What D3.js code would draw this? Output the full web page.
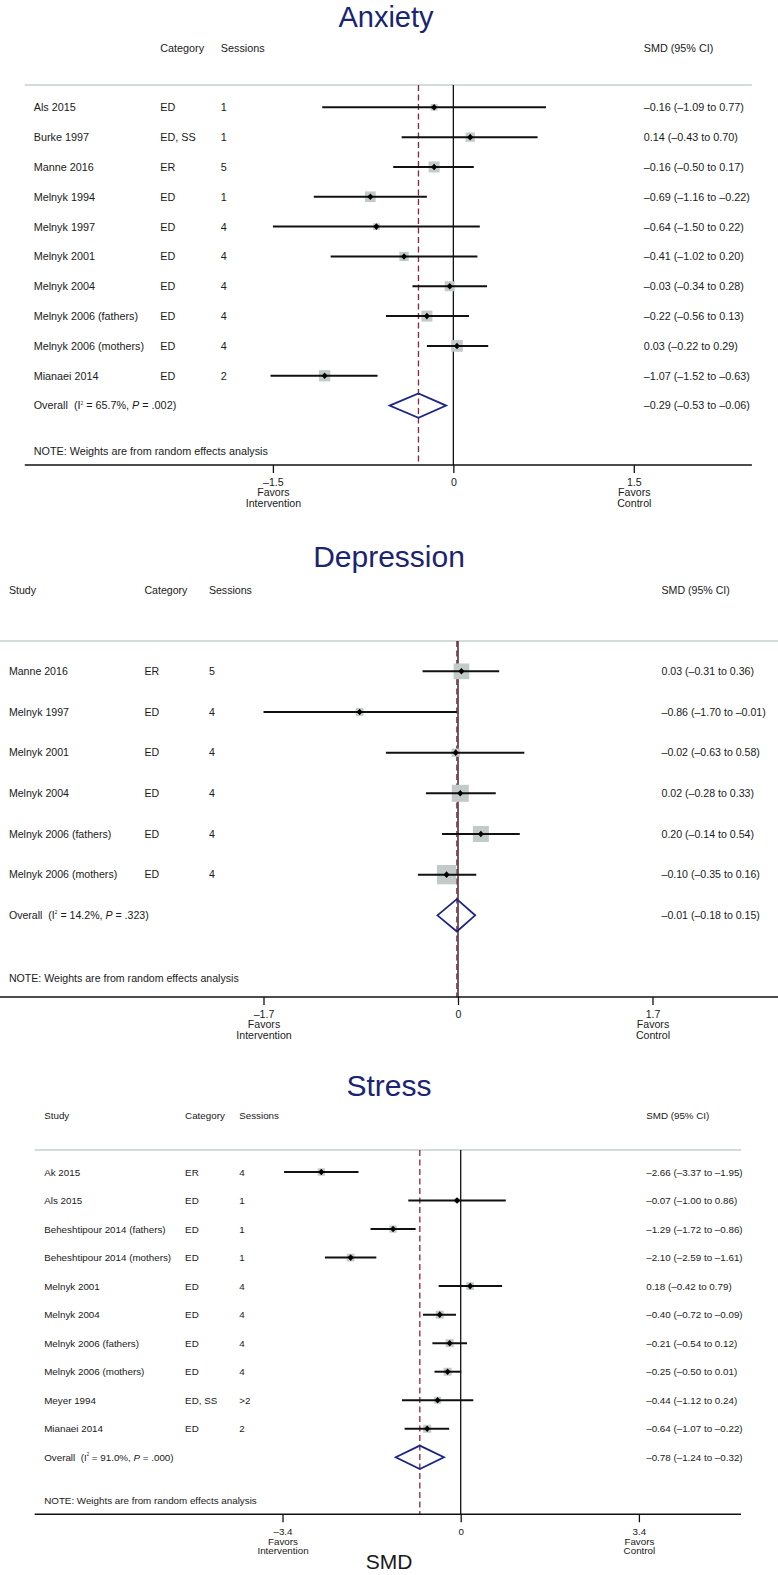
<!DOCTYPE html>
<html><head><meta charset="utf-8">
<script src="https://cdn.jsdelivr.net/npm/d3@7"></script>
<style>
body{margin:0;background:#fff}
svg{display:block}
text{font-family:"Liberation Sans",Arial,Helvetica,sans-serif;fill:#1a1a1a;white-space:pre}
</style>
</head><body>
<svg id="chart" width="778" height="1575"></svg>
<script>
// ---------------- DATA ----------------
const anxietyStudies  = ["Als 2015","Burke 1997","Manne 2016","Melnyk 1994","Melnyk 1997","Melnyk 2001","Melnyk 2004","Melnyk 2006 (fathers)","Melnyk 2006 (mothers)","Mianaei 2014"];
const anxietyCategory = ["ED","ED, SS","ER","ED","ED","ED","ED","ED","ED","ED"];
const anxietySessions = ["1","1","5","1","4","4","4","4","4","2"];
const anxietyEst      = [-0.16, 0.14, -0.16, -0.69, -0.64, -0.41, -0.03, -0.22, 0.03, -1.07];
const anxietyLower    = [-1.09, -0.43, -0.50, -1.16, -1.50, -1.02, -0.34, -0.56, -0.22, -1.52];
const anxietyUpper    = [0.77, 0.70, 0.17, -0.22, 0.22, 0.20, 0.28, 0.13, 0.29, -0.63];
const anxietyWeight   = [4.6, 8.8, 12.3, 11.6, 4.6, 8.8, 10.2, 12.3, 13.9, 13.0];
const anxietyOverall  = [-0.29, -0.53, -0.06];
const anxietyHet      = ["65.7%", ".002"];
const anxietyTicks    = [-1.5, 0, 1.5];

const depressionStudies  = ["Manne 2016","Melnyk 1997","Melnyk 2001","Melnyk 2004","Melnyk 2006 (fathers)","Melnyk 2006 (mothers)"];
const depressionCategory = ["ER","ED","ED","ED","ED","ED"];
const depressionSessions = ["5","4","4","4","4","4"];
const depressionEst      = [0.03, -0.86, -0.02, 0.02, 0.20, -0.10];
const depressionLower    = [-0.31, -1.70, -0.63, -0.28, -0.14, -0.35];
const depressionUpper    = [0.36, -0.01, 0.58, 0.33, 0.54, 0.16];
const depressionWeight   = [19.1, 4.6, 5.3, 22.4, 19.8, 28.8];
const depressionOverall  = [-0.01, -0.18, 0.15];
const depressionHet      = ["14.2%", ".323"];
const depressionTicks    = [-1.7, 0, 1.7];

const stressStudies  = ["Ak 2015","Als 2015","Beheshtipour 2014 (fathers)","Beheshtipour 2014 (mothers)","Melnyk 2001","Melnyk 2004","Melnyk 2006 (fathers)","Melnyk 2006 (mothers)","Meyer 1994","Mianaei 2014"];
const stressCategory = ["ER","ED","ED","ED","ED","ED","ED","ED","ED, SS","ED"];
const stressSessions = ["4","1","1","1","4","4","4","4",">2","2"];
const stressEst      = [-2.66, -0.07, -1.29, -2.10, 0.18, -0.40, -0.21, -0.25, -0.44, -0.64];
const stressLower    = [-3.37, -1.00, -1.72, -2.59, -0.42, -0.72, -0.54, -0.50, -1.12, -1.07];
const stressUpper    = [-1.95, 0.86, -0.86, -1.61, 0.79, -0.09, 0.12, 0.01, 0.24, -0.22];
const stressWeight   = [9.6, 4.5, 9.6, 10.7, 10.7, 11.5, 11.5, 11.5, 8.8, 11.5];
const stressOverall  = [-0.78, -1.24, -0.32];
const stressHet      = ["91.0%", ".000"];
const stressTicks    = [-3.4, 0, 3.4];

const columnHeaders = ["Study", "Category", "Sessions", "SMD (95% CI)"];
const noteText = "NOTE: Weights are from random effects analysis";
const favorsLeft = ["Favors", "Intervention"];
const favorsRight = ["Favors", "Control"];
const xAxisTitle = "SMD";

// ---------------- LAYOUT ----------------
const panels = [
  { title:"Anxiety", studyHeader:false, studies:anxietyStudies, category:anxietyCategory, sessions:anxietySessions,
    est:anxietyEst, lo:anxietyLower, hi:anxietyUpper, weight:anxietyWeight, overall:anxietyOverall, het:anxietyHet, ticks:anxietyTicks,
    L:{titleX:386, titleY:26.5, titleFont:29, headerY:47.7, sepY:85, sepX:[24.8,751.9], rowY0:107.3, rowStep:29.83, noteY:451,
       axisY:465, axisX:[24.8,751.9], cols:[33.7,160.3,220.8,643.7], font:10.8, xRange:[272.9,633.8],
       boxMax:11.7, dHalf:12.2, tickFont:10.6, labelStep:10.5} },
  { title:"Depression", studyHeader:true, studies:depressionStudies, category:depressionCategory, sessions:depressionSessions,
    est:depressionEst, lo:depressionLower, hi:depressionUpper, weight:depressionWeight, overall:depressionOverall, het:depressionHet, ticks:depressionTicks,
    L:{titleX:389, titleY:567, titleFont:30, headerY:590.3, sepY:641, sepX:[0,778], rowY0:671.3, rowStep:40.67, noteY:978,
       axisY:997, axisX:[0,778], cols:[8.9,144.4,208.9,661.5], font:10.6, xRange:[263.5,652.5],
       boxMax:19.3, dHalf:16.2, tickFont:10.6, labelStep:10.5} },
  { title:"Stress", studyHeader:true, studies:stressStudies, category:stressCategory, sessions:stressSessions,
    est:stressEst, lo:stressLower, hi:stressUpper, weight:stressWeight, overall:stressOverall, het:stressHet, ticks:stressTicks,
    L:{titleX:389, titleY:1096, titleFont:30, headerY:1115.3, sepY:1150, sepX:[34.7,741], rowY0:1172, rowStep:28.53, noteY:1500.7,
       axisY:1514.3, axisX:[34.7,741], cols:[44.2,185.1,239.2,646.2], font:9.8, xRange:[282.5,638.9],
       boxMax:8, dHalf:11.7, tickFont:9.8, labelStep:9.7} }
];

const dash = s => s.replace(/[-\u2212]/g, "\u2013");
const fmt2 = v => dash(d3.format(".2f")(v));
const ciLabel = (e,l,u) => `${fmt2(e)} (${fmt2(l)} to ${fmt2(u)})`;
const tickFmt = v => v === 0 ? "0" : dash(String(v));

const svg = d3.select("#chart");

panels.forEach(p => {
  const L = p.L;
  const g = svg.append("g");
  const n = p.studies.length;
  const x = d3.scaleLinear().domain([p.ticks[0], p.ticks[2]]).range(L.xRange);
  const y = d3.scaleLinear().domain([0, n]).range([L.rowY0, L.rowY0 + n * L.rowStep]);
  const box = d3.scaleSqrt().domain([0, d3.max(p.weight)]).range([0, L.boxMax]);
  const base = v => v + L.font * 0.36;

  // title
  g.append("text").attr("x", L.titleX).attr("y", L.titleY).attr("text-anchor","middle")
    .style("font-size", L.titleFont + "px").style("fill","#1b2470").text(p.title);

  // headers
  columnHeaders.forEach((h, i) => {
    if (i === 0 && !p.studyHeader) return;
    g.append("text").attr("x", L.cols[i]).attr("y", base(L.headerY)).style("font-size", L.font + "px").text(h);
  });

  // separator
  g.append("line").attr("x1", L.sepX[0]).attr("x2", L.sepX[1]).attr("y1", L.sepY).attr("y2", L.sepY)
    .attr("stroke", "#d3dbdb").attr("stroke-width", 2);

  // zero line
  g.append("line").attr("x1", x(0)).attr("x2", x(0)).attr("y1", L.sepY).attr("y2", L.axisY)
    .attr("stroke", "#111").attr("stroke-width", 1.3);
  // overall dashed line
  g.append("line").attr("x1", x(p.overall[0])).attr("x2", x(p.overall[0])).attr("y1", L.sepY).attr("y2", L.axisY)
    .attr("stroke", "#8e2340").attr("stroke-width", 1.3).attr("stroke-dasharray", "6,3.5");

  const idx = d3.range(n);
  // weight boxes
  g.selectAll("rect.w").data(idx).join("rect").attr("class","w")
    .attr("x", i => x(p.est[i]) - box(p.weight[i]) / 2)
    .attr("y", i => y(i) - box(p.weight[i]) / 2)
    .attr("width", i => box(p.weight[i])).attr("height", i => box(p.weight[i]))
    .attr("fill", "#c3cbca");
  // CI lines
  g.selectAll("line.ci").data(idx).join("line").attr("class","ci")
    .attr("x1", i => x(p.lo[i])).attr("x2", i => x(p.hi[i]))
    .attr("y1", i => y(i)).attr("y2", i => y(i))
    .attr("stroke", "#111").attr("stroke-width", 2);
  // point markers
  const dm = 3.0;
  g.selectAll("path.pt").data(idx).join("path").attr("class","pt")
    .attr("d", i => { const cx = x(p.est[i]), cy = y(i);
      return `M${cx - dm},${cy}L${cx},${cy - dm * 1.1}L${cx + dm},${cy}L${cx},${cy + dm * 1.1}Z`; })
    .attr("fill", "#000");

  // row texts
  idx.forEach(i => {
    const yy = base(y(i));
    g.append("text").attr("x", L.cols[0]).attr("y", yy).style("font-size", L.font + "px").text(p.studies[i]);
    g.append("text").attr("x", L.cols[1]).attr("y", yy).style("font-size", L.font + "px").text(p.category[i]);
    g.append("text").attr("x", L.cols[2]).attr("y", yy).style("font-size", L.font + "px").text(p.sessions[i]);
    g.append("text").attr("x", L.cols[3]).attr("y", yy).style("font-size", L.font + "px")
      .text(ciLabel(p.est[i], p.lo[i], p.hi[i]));
  });

  // overall diamond
  const oy = y(n), o = p.overall;
  g.append("path")
    .attr("d", `M${x(o[1])},${oy}L${x(o[0])},${oy - L.dHalf}L${x(o[2])},${oy}L${x(o[0])},${oy + L.dHalf}Z`)
    .attr("fill", "none").attr("stroke", "#1c2585").attr("stroke-width", 1.8);
  const ot = g.append("text").attr("x", L.cols[0]).attr("y", base(oy)).style("font-size", L.font + "px");
  ot.append("tspan").text("Overall  (I");
  ot.append("tspan").attr("dy", -L.font * 0.45).style("font-size", (L.font * 0.45) + "px").text("2");
  ot.append("tspan").attr("dy", L.font * 0.45).text(` = ${p.het[0]}, `);
  ot.append("tspan").style("font-style", "italic").text("P");
  ot.append("tspan").text(` = ${p.het[1]})`);
  g.append("text").attr("x", L.cols[3]).attr("y", base(oy)).style("font-size", L.font + "px")
    .text(ciLabel(o[0], o[1], o[2]));

  // note
  g.append("text").attr("x", L.cols[0]).attr("y", base(L.noteY)).style("font-size", L.font + "px").text(noteText);

  // axis
  g.append("line").attr("x1", L.axisX[0]).attr("x2", L.axisX[1]).attr("y1", L.axisY).attr("y2", L.axisY)
    .attr("stroke", "#111").attr("stroke-width", 1.5);
  const ax = g.append("g").attr("transform", `translate(0,${L.axisY})`)
    .call(d3.axisBottom(x).tickValues(p.ticks).tickSize(8).tickFormat(tickFmt));
  ax.select(".domain").remove();
  ax.selectAll(".tick line").attr("stroke", "#111").attr("stroke-width", 1.3);
  ax.selectAll(".tick text").each(function(d) {
    const t = d3.select(this);
    t.text(null).attr("y", 0).attr("dy", null)
      .style("font-size", L.tickFont + "px").style("font-family", '"Liberation Sans",Arial,sans-serif').attr("fill", "#1a1a1a");
    const lines = [tickFmt(d)].concat(d < 0 ? favorsLeft : d > 0 ? favorsRight : []);
    lines.forEach((s, k) => {
      t.append("tspan").attr("x", 0).attr("y", 17 + k * L.labelStep + L.tickFont * 0.36).text(s);
    });
  });
});

// bottom axis title
svg.append("text").attr("x", 389).attr("y", 1569).attr("text-anchor", "middle")
  .style("font-size", "21px").text(xAxisTitle);
</script>
</body></html>
